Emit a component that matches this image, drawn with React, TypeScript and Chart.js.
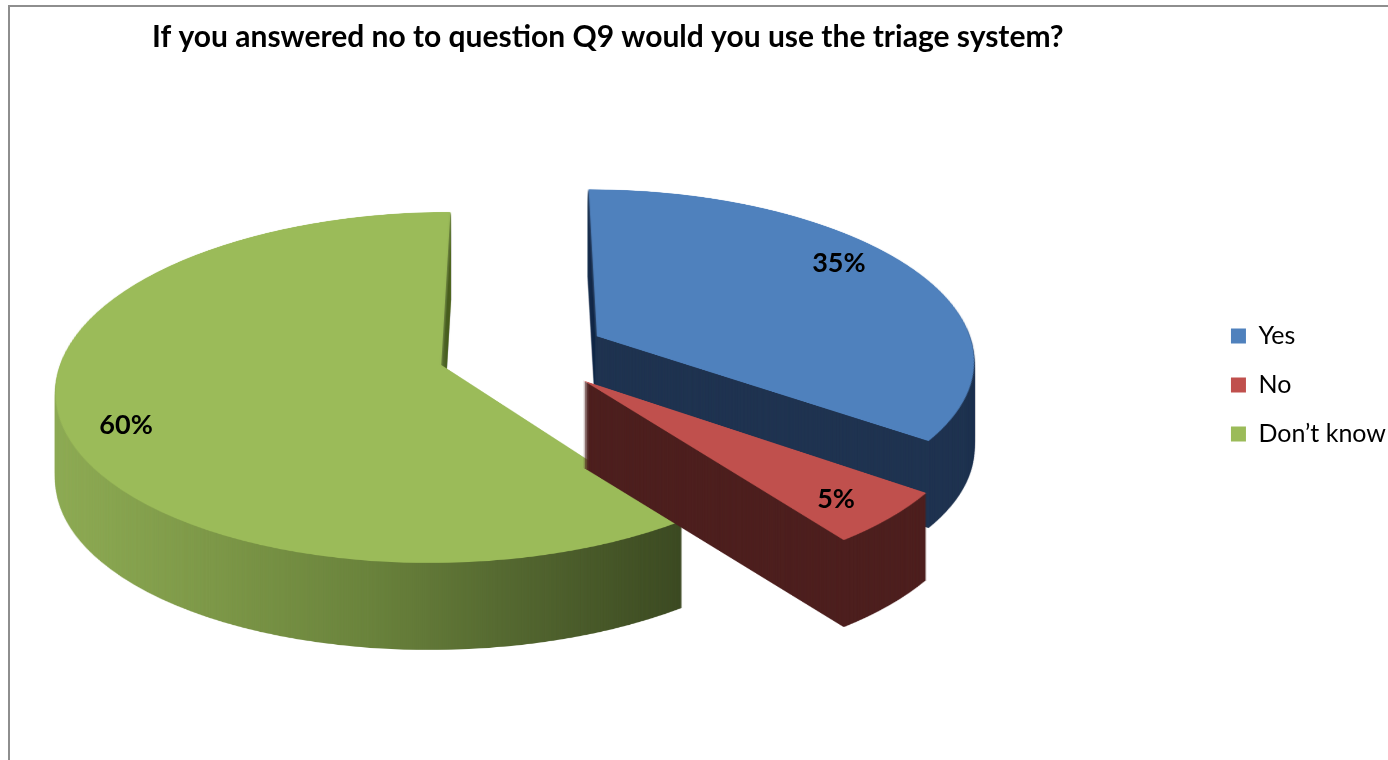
import React, { useEffect, useRef } from 'react';
import { Chart, registerables } from 'chart.js';

Chart.register(...registerables);

const chartTitle = 'If you answered no to question Q9 would you use the triage system?';
const categories = ['Yes', 'No', 'Don\u2019t know'];
const values = [35, 5, 60];
const percentLabels = ['35%', '5%', '60%'];

const topColors = ['#4F81BD', '#C0504D', '#9BBB59'];
const sideColors: any[] = ['#1F3350', '#4D1F1E', ['#8EAB54', '#7D9848', '#6A833C', '#52652F', '#3C4A22']];

const pie3d = {
  id: 'pie3d',
  beforeDatasetsDraw(chart: any, _args: any, opts: any) {
    const arcs = chart.getDatasetMeta(0).data as any[];
    if (!arcs.length) return false;
    const ctx: CanvasRenderingContext2D = chart.ctx;
    const W = chart.width;
    const H = chart.height;
    const { tx, ty, tilt, persp, depth, explode } = opts;
    const sOf = (v: number) => 1 / (1 - persp * v);
    const warp = (u: number, v: number) => ({ x: tx + u * sOf(v), y: ty + tilt * v * sOf(v) });
    const vOfY = (Y: number) => {
      const q = (Y - ty) / tilt;
      return q / (1 + persp * q);
    };
    const geo = (arc: any) => {
      const half = (arc.startAngle + arc.endAngle) / 2;
      return { half, dx: Math.cos(half) * explode, dy: Math.sin(half) * explode };
    };
    const R = arcs[0].outerRadius;
    const size = Math.ceil(2 * (R + explode + 10));
    const c = size / 2;
    const mk = (w: number, h: number) => {
      const cv = document.createElement('canvas');
      cv.width = w;
      cv.height = h;
      return cv;
    };
    const plane = mk(size, size);
    const pctx = plane.getContext('2d') as CanvasRenderingContext2D;
    const topCv = mk(W, H);
    const tctx = topCv.getContext('2d') as CanvasRenderingContext2D;
    const sideCv = mk(W, H);
    const sctx = sideCv.getContext('2d') as CanvasRenderingContext2D;

    const order = arcs.map((_a, i) => i).sort((i, j) => geo(arcs[i]).dy - geo(arcs[j]).dy);
    for (const i of order) {
      const arc = arcs[i];
      const g = geo(arc);
      const orig = arc.options;
      // draw slice flat in plane coordinates with the library's arc element
      pctx.setTransform(1, 0, 0, 1, 0, 0);
      pctx.clearRect(0, 0, size, size);
      pctx.translate(c - arc.x + g.dx, c - arc.y + g.dy);
      arc.options = { ...orig, borderWidth: 0 };
      arc.draw(pctx);
      arc.options = orig;

      // screen bounding box of the slice
      let xMin = Infinity, xMax = -Infinity;
      const pts: { x: number; y: number }[] = [warp(g.dx, g.dy)];
      const steps = 80;
      for (let k = 0; k <= steps; k++) {
        const a = arc.startAngle + ((arc.endAngle - arc.startAngle) * k) / steps;
        pts.push(warp(g.dx + R * Math.cos(a), g.dy + R * Math.sin(a)));
      }
      pts.forEach((p) => {
        xMin = Math.min(xMin, p.x);
        xMax = Math.max(xMax, p.x);
      });
      const yMin = Math.floor(warp(0, g.dy - R - 2).y);
      const yMax = Math.ceil(warp(0, g.dy + R + 2).y);

      // perspective warp, one screen row at a time
      tctx.clearRect(0, 0, W, H);
      tctx.imageSmoothingEnabled = true;
      tctx.imageSmoothingQuality = 'high';
      for (let Y = yMin; Y < yMax; Y++) {
        const v0 = vOfY(Y);
        const v1 = vOfY(Y + 1);
        const sc = sOf((v0 + v1) / 2);
        let sy = v0 + c;
        let sh = v1 - v0;
        if (sy < 0) { sh += sy; sy = 0; }
        if (sy + sh > size) sh = size - sy;
        if (sh <= 0) continue;
        tctx.drawImage(plane, 0, sy, size, sh, tx - c * sc, Y, size * sc, 1);
      }

      // side colour version
      let fill: any = opts.sideColors[i];
      if (Array.isArray(fill)) {
        const grad = sctx.createLinearGradient(xMin, 0, xMax, 0);
        const stops = fill as string[];
        stops.forEach((col, k) => grad.addColorStop(k / (stops.length - 1), col));
        fill = grad;
      }
      sctx.globalCompositeOperation = 'source-over';
      sctx.clearRect(0, 0, W, H);
      sctx.drawImage(topCv, 0, 0);
      sctx.globalCompositeOperation = 'source-in';
      sctx.fillStyle = fill;
      sctx.fillRect(0, 0, W, H);
      sctx.globalCompositeOperation = 'source-over';

      const bx = Math.max(0, Math.floor(xMin) - 3);
      const by = Math.max(0, yMin - 3);
      const bw = Math.min(W - bx, Math.ceil(xMax - xMin) + 6);
      const bh = Math.min(H - by, yMax - yMin + 6);
      for (let dy = depth; dy >= 1; dy--) {
        ctx.drawImage(sideCv, bx, by, bw, bh, bx, by + dy, bw, bh);
      }
      ctx.drawImage(topCv, bx, by, bw, bh, bx, by, bw, bh);
    }

    ctx.save();
    ctx.font = opts.labelFont;
    ctx.fillStyle = '#000';
    ctx.textAlign = 'center';
    ctx.textBaseline = 'middle';
    arcs.forEach((arc, i) => {
      const g = geo(arc);
      const ang = g.half + (opts.labelAngleShift[i] * Math.PI) / 180;
      const rr = opts.labelRadius[i] * R;
      const p = warp(g.dx + rr * Math.cos(ang), g.dy + rr * Math.sin(ang));
      ctx.fillText(opts.labels[i], p.x, p.y);
    });
    ctx.restore();
    return false;
  },
};

export default function App() {
  const ref = useRef<HTMLCanvasElement | null>(null);
  useEffect(() => {
    if (!ref.current) return;
    const chart = new Chart(ref.current, {
      type: 'pie',
      data: {
        labels: categories,
        datasets: [
          {
            data: values,
            backgroundColor: topColors,
            borderWidth: 0,
          },
        ],
      },
      options: {
        animation: false,
        responsive: false,
        events: [],
        radius: 378,
        layout: { padding: { left: 152, right: -8, top: 0, bottom: -10 } },
        plugins: {
          title: {
            display: true,
            text: chartTitle,
            align: 'start',
            color: '#000',
            font: { family: 'Lato', weight: 'bold', size: 30 },
            padding: { top: 19, bottom: 6 },
          },
          legend: {
            display: true,
            position: 'right',
            labels: {
              boxWidth: 15,
              boxHeight: 15,
              padding: 24,
              color: '#000',
              font: { family: 'Lato', size: 25 },
            },
          },
          tooltip: { enabled: false },
          pie3d: {
            tx: 522.4,
            ty: 353.2,
            tilt: 0.4486,
            persp: 0.000336,
            depth: 87,
            explode: 84.5,
            sideColors,
            labels: percentLabels,
            labelRadius: [0.842, 0.854, 0.85],
            labelAngleShift: [-6.9, 1.3, -5],
            labelFont: 'bold 27px Lato',
          },
        } as any,
      } as any,
      plugins: [pie3d as any],
    });
    return () => chart.destroy();
  }, []);
  return (
    <div style={{ position: 'absolute', left: 0, top: 0, width: 1388, height: 760, overflow: 'hidden', background: '#fff' }}>
      <div
        style={{
          position: 'absolute',
          left: 8,
          top: 5,
          width: 1420,
          height: 820,
          border: '2px solid #8E8E8E',
          boxSizing: 'border-box',
        }}
      />
      <canvas ref={ref} width={1388} height={760} style={{ position: 'absolute', left: 0, top: 0, display: 'block' }} />
    </div>
  );
}
